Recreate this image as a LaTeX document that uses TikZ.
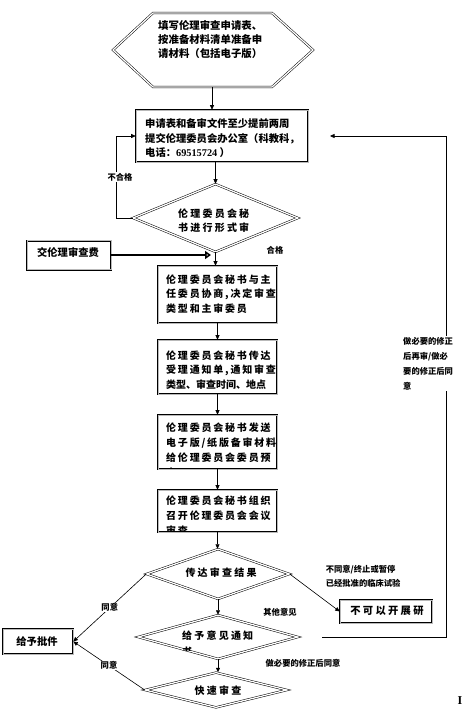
\documentclass[tikz,border=0pt]{standalone}
\usepackage{fontspec}
\setmainfont{Noto Sans CJK SC}
\newfontfamily\cjk{Noto Sans CJK SC}
\newfontfamily\cjksp[LetterSpace=18]{Noto Sans CJK SC}
\newfontfamily\cjkwide[LetterSpace=22]{Noto Sans CJK SC}
\newfontfamily\latn{Liberation Serif}
\usetikzlibrary{shapes.geometric,arrows.meta,shadows}
\tikzset{
  box/.style={draw=black, line width=0.6pt, double=gray!55, double distance=0.8pt,
    fill=white, inner sep=0pt,
    drop shadow={shadow xshift=1.4pt, shadow yshift=-1.4pt, fill=gray!80, opacity=1}},
  diam/.style={shape=diamond, draw=black, line width=0.5pt, double=white,
    double distance=1.3pt, inner sep=0pt, aspect=2.5},
  dbl/.style={draw=black, line width=0.5pt, double=white, double distance=1.3pt},
  txt/.style={font=\cjk\bfseries\fontsize{10}{14.5}\selectfont, align=left,
    inner sep=0pt, anchor=north west},
  txtsp/.style={font=\cjksp\bfseries\fontsize{10}{14.5}\selectfont, align=left,
    inner sep=0pt, anchor=north west},
  ctxt/.style={font=\cjkwide\bfseries\fontsize{10}{14}\selectfont, inner sep=0pt},
  lab/.style={font=\cjk\bfseries\fontsize{8.3}{14.5}\selectfont, inner sep=0.6pt,
    fill=white, align=left},
  arr/.style={-{Triangle[length=4.5pt,width=4pt]}, line width=0.6pt},
  ln/.style={line width=0.6pt},
  fat/.style={line width=2.4pt, -{Triangle[length=6pt,width=8pt,fill=gray!30]}}
}
\begin{document}
\begin{tikzpicture}[x=1pt,y=-1pt]
\useasboundingbox (0,0) rectangle (473,711);

% top hexagon
\draw[dbl] (113,50) -- (153,13) -- (272,13) -- (313,50) -- (272,87) -- (153,87) -- cycle;
\coordinate (hexs) at (212,87);
\node[txt, font=\cjk\bfseries\fontsize{10.4}{14}\selectfont] (hext) at (158,20.5)
  {填写伦理审查申请表、\\按准备材料清单准备申\\请材料（包括电子版）};

% box 1
\node[box, minimum width=172pt, minimum height=52pt] (b1) at (222,136) {};
\node[txt, font=\cjk\bfseries\fontsize{10.3}{14.5}\selectfont] (b1t) at (145,118.5)
  {申请表和备审文件至少提前两周\\提交伦理委员会办公室（科教科，\\电话：{\latn\bfseries 69515724} ）};
\draw[arr] (hexs) -- (hexs |- b1.north);

% diamond 1
\node[diam, minimum width=165pt, minimum height=68pt] (d1) at (215.5,218) {};
\node[txt, font=\cjkwide\bfseries\fontsize{10}{14}\selectfont] (d1t) at (178,208.5)
  {伦理委员会秘\\书进行形式审};
\draw[arr] (b1.south -| d1.north) -- (d1.north);

% fail loop
\coordinate (lp) at (116,218);
\draw[arr] (d1.west) -- (lp) |- (b1.west);
\node[lab] (nok) at (120,177) {不合格};

% fee box
\node[box, minimum width=84pt, minimum height=29pt] (fee) at (69,255) {};
\node[font=\cjk\bfseries\fontsize{10.3}{12}\selectfont, inner sep=0pt] (feet) at (68,253) {交伦理审查费};

% box 2
\node[box, minimum width=119pt, minimum height=57pt] (b2) at (217.5,294.5) {};
\node[txtsp] (b2t) at (166,274.5)
  {伦理委员会秘书与主\\任委员协商,决定审查\\类型和主审委员};
\draw[arr] (d1.south) -- (d1.south |- b2.north);
\coordinate (feeend) at (211,255);
\draw[fat] (fee.east) -- (feeend);
\node[lab] (pass) at (275,250) {合格};

% box 3
\node[box, minimum width=119pt, minimum height=54pt] (b3) at (217.5,367) {};
\node[txtsp] (b3t) at (166,350.5)
  {伦理委员会秘书传达\\受理通知单,通知审查\\{\cjk 类型、审查时间、地点}};
\draw[arr] (b2.south) -- (b3.north);

% box 4
\node[box, minimum width=119pt, minimum height=54pt] (b4) at (217.5,442) {};
\begin{scope}
  \clip (159,416) rectangle (276,468);
  \node[txtsp, font=\cjksp\bfseries\fontsize{10}{15}\selectfont] (b4t) at (166,422.5)
    {伦理委员会秘书发送\\电子版/纸版备审材料\\给伦理委员会委员预\\审};
\end{scope}
\draw[arr] (b3.south) -- (b4.north);

% box 5
\node[box, minimum width=119pt, minimum height=42pt] (b5) at (217.5,511) {};
\begin{scope}
  \clip (159,491) rectangle (276,531);
  \node[txtsp, font=\cjksp\bfseries\fontsize{10}{15}\selectfont] (b5t) at (166,495.5)
    {伦理委员会秘书组织\\召开伦理委员会会议\\审查};
\end{scope}
\draw[arr] (b4.south) -- (b5.north);

% diamond 2
\node[diam, minimum width=143pt, minimum height=50pt] (d2) at (218,574) {};
\node[ctxt] (d2t) at (221,573) {传达审查结果};
\draw[arr] (b5.south) -- (b5.south |- d2.north);

% diamond 3
\node[diam, minimum width=160pt, minimum height=44pt] (d3) at (218,637) {};
\begin{scope}
  \clip (150,620) rectangle (290,650);
  \node[txt, font=\cjkwide\bfseries\fontsize{10}{16}\selectfont] (d3t) at (182,630.5)
    {给予意见通知\\书};
\end{scope}
\draw[arr] (d2.south) -- (d3.north);

% diamond 4
\node[diam, minimum width=142pt, minimum height=35pt] (d4) at (216,690) {};
\node[ctxt] (d4t) at (218,691) {快速审查};
\draw[arr] (d3.south) -- (d3.south |- d4.north);

% refuse box
\node[box, minimum width=92pt, minimum height=23pt] (no) at (386,611.5) {};
\node[ctxt, font=\cjkwide\bfseries\fontsize{10.3}{12}\selectfont] (not) at (387,611) {不可以开展研};
\draw[arr] (d2.east) -- (no.west);
\node[lab, anchor=north west, fill=none, font=\cjk\bfseries\fontsize{8.3}{14}\selectfont] (stop) at (325,564)
  {不同意/终止或暂停\\已经批准的临床试验};

% approve box
\node[box, minimum width=70pt, minimum height=25pt] (ok) at (38,641.5) {};
\node[font=\cjk\bfseries\fontsize{10.3}{12}\selectfont, inner sep=0pt] (okt) at (37,642) {给予批件};
\draw[arr] (d2.west) -- (ok.east) node[lab, pos=0.5] {同意};
\draw[arr] (d4.west) -- (ok.east) node[lab, pos=0.5] {同意};

% other labels
\node[lab, fill=none] (other) at (280,612) {其他意见};
\node[lab, fill=none] (fix) at (303,663) {做必要的修正后同意};

% right feedback loop
\coordinate (r1) at (322,637);
\coordinate (r2) at (446,637);
\coordinate (r3) at (446,136);
\coordinate (r4) at (330,136);
\draw[arr] (r1) -- (r2) -- (r3) -- (r4);
\node[lab, anchor=north west, font=\cjk\bfseries\fontsize{8.3}{15}\selectfont, inner sep=1pt] (back) at (402,336)
  {做必要的修正\\后再审/做必\\要的修正后同\\意};

\node[font=\latn\bfseries\fontsize{12}{12}\selectfont, inner sep=0pt] (mark) at (460,701) {I};
\end{tikzpicture}
\end{document}
